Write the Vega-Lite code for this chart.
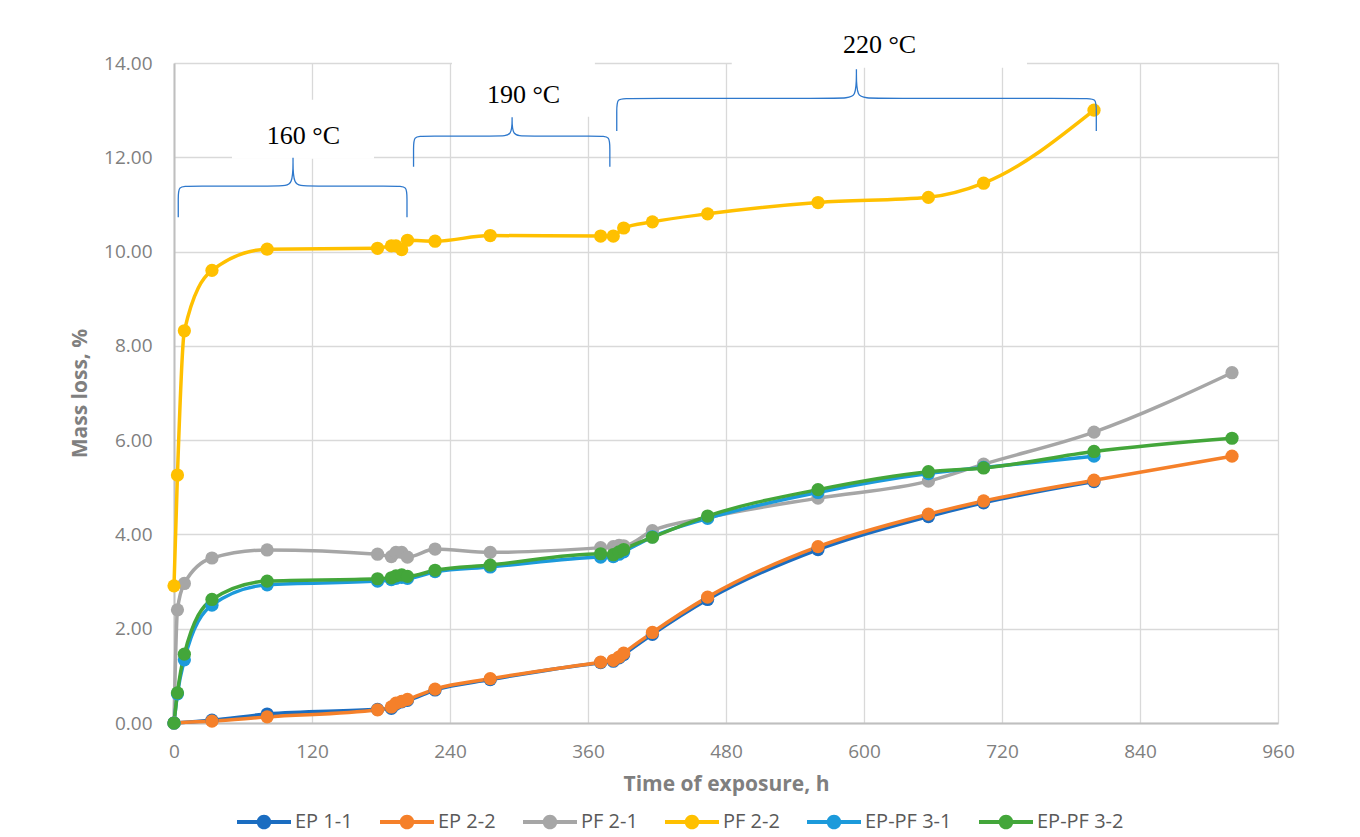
{
  "$schema": "https://vega.github.io/schema/vega-lite/v6.json",
  "width": 1104,
  "height": 660,
  "autosize": {"type": "none"},
  "padding": {"left": 174, "top": 63, "right": 82, "bottom": 114},
  "background": "white",
  "config": {
    "view": {"stroke": null},
    "font": "Open Sans",
    "axis": {
      "ticks": false,
      "domainColor": "#bfbfbf",
      "domainWidth": 2,
      "gridColor": "#d9d9d9",
      "gridWidth": 1.3,
      "labelFont": "Open Sans",
      "labelFontSize": 19,
      "labelColor": "#7f7f7f",
      "labelFlush": false,
      "titleFont": "Open Sans",
      "titleFontSize": 21,
      "titleFontWeight": "bold",
      "titleColor": "#7f7f7f"
    }
  },
  "datasets": {
    "loss": [
      {"series": "EP 1-1", "h": 0, "v": 0},
      {"series": "EP 1-1", "h": 33, "v": 0.06},
      {"series": "EP 1-1", "h": 81, "v": 0.19},
      {"series": "EP 1-1", "h": 177, "v": 0.29},
      {"series": "EP 1-1", "h": 189, "v": 0.31},
      {"series": "EP 1-1", "h": 193, "v": 0.4},
      {"series": "EP 1-1", "h": 198, "v": 0.45},
      {"series": "EP 1-1", "h": 203, "v": 0.48},
      {"series": "EP 1-1", "h": 227, "v": 0.7},
      {"series": "EP 1-1", "h": 275, "v": 0.92},
      {"series": "EP 1-1", "h": 371, "v": 1.28},
      {"series": "EP 1-1", "h": 382, "v": 1.31},
      {"series": "EP 1-1", "h": 387, "v": 1.38},
      {"series": "EP 1-1", "h": 391, "v": 1.45},
      {"series": "EP 1-1", "h": 416, "v": 1.88},
      {"series": "EP 1-1", "h": 464, "v": 2.62},
      {"series": "EP 1-1", "h": 560, "v": 3.68},
      {"series": "EP 1-1", "h": 656, "v": 4.38},
      {"series": "EP 1-1", "h": 704, "v": 4.67},
      {"series": "EP 1-1", "h": 800, "v": 5.12},

      {"series": "EP 2-2", "h": 0, "v": 0},
      {"series": "EP 2-2", "h": 33, "v": 0.04},
      {"series": "EP 2-2", "h": 81, "v": 0.13},
      {"series": "EP 2-2", "h": 177, "v": 0.28},
      {"series": "EP 2-2", "h": 189, "v": 0.34},
      {"series": "EP 2-2", "h": 193, "v": 0.42},
      {"series": "EP 2-2", "h": 198, "v": 0.46},
      {"series": "EP 2-2", "h": 203, "v": 0.5},
      {"series": "EP 2-2", "h": 227, "v": 0.72},
      {"series": "EP 2-2", "h": 275, "v": 0.94},
      {"series": "EP 2-2", "h": 371, "v": 1.29},
      {"series": "EP 2-2", "h": 382, "v": 1.33},
      {"series": "EP 2-2", "h": 387, "v": 1.4},
      {"series": "EP 2-2", "h": 391, "v": 1.48},
      {"series": "EP 2-2", "h": 416, "v": 1.92},
      {"series": "EP 2-2", "h": 464, "v": 2.67},
      {"series": "EP 2-2", "h": 560, "v": 3.74},
      {"series": "EP 2-2", "h": 656, "v": 4.43},
      {"series": "EP 2-2", "h": 704, "v": 4.71},
      {"series": "EP 2-2", "h": 800, "v": 5.15},
      {"series": "EP 2-2", "h": 920, "v": 5.66},

      {"series": "PF 2-1", "h": 0, "v": 0},
      {"series": "PF 2-1", "h": 3, "v": 2.4},
      {"series": "PF 2-1", "h": 9, "v": 2.96},
      {"series": "PF 2-1", "h": 33, "v": 3.5},
      {"series": "PF 2-1", "h": 81, "v": 3.67},
      {"series": "PF 2-1", "h": 177, "v": 3.58},
      {"series": "PF 2-1", "h": 189, "v": 3.53},
      {"series": "PF 2-1", "h": 193, "v": 3.62},
      {"series": "PF 2-1", "h": 198, "v": 3.62},
      {"series": "PF 2-1", "h": 203, "v": 3.52},
      {"series": "PF 2-1", "h": 227, "v": 3.69},
      {"series": "PF 2-1", "h": 275, "v": 3.62},
      {"series": "PF 2-1", "h": 371, "v": 3.72},
      {"series": "PF 2-1", "h": 382, "v": 3.74},
      {"series": "PF 2-1", "h": 387, "v": 3.77},
      {"series": "PF 2-1", "h": 391, "v": 3.76},
      {"series": "PF 2-1", "h": 416, "v": 4.08},
      {"series": "PF 2-1", "h": 464, "v": 4.36},
      {"series": "PF 2-1", "h": 560, "v": 4.77},
      {"series": "PF 2-1", "h": 656, "v": 5.13},
      {"series": "PF 2-1", "h": 704, "v": 5.49},
      {"series": "PF 2-1", "h": 800, "v": 6.17},
      {"series": "PF 2-1", "h": 920, "v": 7.43},

      {"series": "PF 2-2", "h": 0, "v": 2.91},
      {"series": "PF 2-2", "h": 3, "v": 5.26},
      {"series": "PF 2-2", "h": 9, "v": 8.32},
      {"series": "PF 2-2", "h": 33, "v": 9.6},
      {"series": "PF 2-2", "h": 81, "v": 10.05},
      {"series": "PF 2-2", "h": 177, "v": 10.07},
      {"series": "PF 2-2", "h": 189, "v": 10.12},
      {"series": "PF 2-2", "h": 193, "v": 10.12},
      {"series": "PF 2-2", "h": 198, "v": 10.04},
      {"series": "PF 2-2", "h": 203, "v": 10.24},
      {"series": "PF 2-2", "h": 227, "v": 10.22},
      {"series": "PF 2-2", "h": 275, "v": 10.34},
      {"series": "PF 2-2", "h": 371, "v": 10.33},
      {"series": "PF 2-2", "h": 382, "v": 10.33},
      {"series": "PF 2-2", "h": 391, "v": 10.5},
      {"series": "PF 2-2", "h": 416, "v": 10.63},
      {"series": "PF 2-2", "h": 464, "v": 10.8},
      {"series": "PF 2-2", "h": 560, "v": 11.04},
      {"series": "PF 2-2", "h": 656, "v": 11.15},
      {"series": "PF 2-2", "h": 704, "v": 11.45},
      {"series": "PF 2-2", "h": 800, "v": 13.0},

      {"series": "EP-PF 3-1", "h": 0, "v": 0},
      {"series": "EP-PF 3-1", "h": 3, "v": 0.62},
      {"series": "EP-PF 3-1", "h": 9, "v": 1.34},
      {"series": "EP-PF 3-1", "h": 33, "v": 2.5},
      {"series": "EP-PF 3-1", "h": 81, "v": 2.93},
      {"series": "EP-PF 3-1", "h": 177, "v": 3.01},
      {"series": "EP-PF 3-1", "h": 189, "v": 3.04},
      {"series": "EP-PF 3-1", "h": 193, "v": 3.07},
      {"series": "EP-PF 3-1", "h": 198, "v": 3.09},
      {"series": "EP-PF 3-1", "h": 203, "v": 3.07},
      {"series": "EP-PF 3-1", "h": 227, "v": 3.21},
      {"series": "EP-PF 3-1", "h": 275, "v": 3.31},
      {"series": "EP-PF 3-1", "h": 371, "v": 3.52},
      {"series": "EP-PF 3-1", "h": 382, "v": 3.53},
      {"series": "EP-PF 3-1", "h": 387, "v": 3.58},
      {"series": "EP-PF 3-1", "h": 391, "v": 3.63},
      {"series": "EP-PF 3-1", "h": 416, "v": 3.95},
      {"series": "EP-PF 3-1", "h": 464, "v": 4.34},
      {"series": "EP-PF 3-1", "h": 560, "v": 4.89},
      {"series": "EP-PF 3-1", "h": 656, "v": 5.29},
      {"series": "EP-PF 3-1", "h": 704, "v": 5.42},
      {"series": "EP-PF 3-1", "h": 800, "v": 5.66},

      {"series": "EP-PF 3-2", "h": 0, "v": 0},
      {"series": "EP-PF 3-2", "h": 3, "v": 0.64},
      {"series": "EP-PF 3-2", "h": 9, "v": 1.46},
      {"series": "EP-PF 3-2", "h": 33, "v": 2.62},
      {"series": "EP-PF 3-2", "h": 81, "v": 3.01},
      {"series": "EP-PF 3-2", "h": 177, "v": 3.06},
      {"series": "EP-PF 3-2", "h": 189, "v": 3.08},
      {"series": "EP-PF 3-2", "h": 193, "v": 3.12},
      {"series": "EP-PF 3-2", "h": 198, "v": 3.14},
      {"series": "EP-PF 3-2", "h": 203, "v": 3.11},
      {"series": "EP-PF 3-2", "h": 227, "v": 3.24},
      {"series": "EP-PF 3-2", "h": 275, "v": 3.35},
      {"series": "EP-PF 3-2", "h": 371, "v": 3.59},
      {"series": "EP-PF 3-2", "h": 382, "v": 3.57},
      {"series": "EP-PF 3-2", "h": 387, "v": 3.63},
      {"series": "EP-PF 3-2", "h": 391, "v": 3.68},
      {"series": "EP-PF 3-2", "h": 416, "v": 3.94},
      {"series": "EP-PF 3-2", "h": 464, "v": 4.39},
      {"series": "EP-PF 3-2", "h": 560, "v": 4.95},
      {"series": "EP-PF 3-2", "h": 656, "v": 5.33},
      {"series": "EP-PF 3-2", "h": 704, "v": 5.41},
      {"series": "EP-PF 3-2", "h": 800, "v": 5.76},
      {"series": "EP-PF 3-2", "h": 920, "v": 6.04}
    ],
    "boxes": [
      {"h": 50.4, "h2": 173.9, "v": 11.97, "v2": 13.22},
      {"h": 241.7, "h2": 366, "v": 12.86, "v2": 14.05},
      {"h": 485, "h2": 741.7, "v": 13.9, "v2": 15.17}
    ],
    "braces": [
      {"brace": "160", "i": 1, "h": 3.7, "v": 10.73},
      {"brace": "160", "i": 2, "h": 3.7, "v": 10.73},
      {"brace": "160", "i": 3, "h": 3.7, "v": 11.135},
      {"brace": "160", "i": 4, "h": 3.7, "v": 11.39},
      {"brace": "160", "i": 5, "h": 12.4, "v": 11.39},
      {"brace": "160", "i": 6, "h": 93.1, "v": 11.39},
      {"brace": "160", "i": 7, "h": 103.5, "v": 11.39},
      {"brace": "160", "i": 8, "h": 103.5, "v": 11.99},
      {"brace": "160", "i": 9, "h": 103.5, "v": 11.99},
      {"brace": "160", "i": 10, "h": 103.5, "v": 11.99},
      {"brace": "160", "i": 11, "h": 103.5, "v": 11.39},
      {"brace": "160", "i": 12, "h": 113.9, "v": 11.39},
      {"brace": "160", "i": 13, "h": 193.9, "v": 11.39},
      {"brace": "160", "i": 14, "h": 202.6, "v": 11.39},
      {"brace": "160", "i": 15, "h": 202.6, "v": 11.135},
      {"brace": "160", "i": 16, "h": 202.6, "v": 10.73},
      {"brace": "160", "i": 17, "h": 202.6, "v": 10.73},

      {"brace": "190", "i": 1, "h": 208.3, "v": 11.8},
      {"brace": "190", "i": 2, "h": 208.3, "v": 11.8},
      {"brace": "190", "i": 3, "h": 208.3, "v": 12.195},
      {"brace": "190", "i": 4, "h": 208.3, "v": 12.45},
      {"brace": "190", "i": 5, "h": 217, "v": 12.45},
      {"brace": "190", "i": 6, "h": 283.6, "v": 12.45},
      {"brace": "190", "i": 7, "h": 294, "v": 12.45},
      {"brace": "190", "i": 8, "h": 294, "v": 12.85},
      {"brace": "190", "i": 9, "h": 294, "v": 12.85},
      {"brace": "190", "i": 10, "h": 294, "v": 12.85},
      {"brace": "190", "i": 11, "h": 294, "v": 12.45},
      {"brace": "190", "i": 12, "h": 304.4, "v": 12.45},
      {"brace": "190", "i": 13, "h": 370.3, "v": 12.45},
      {"brace": "190", "i": 14, "h": 379, "v": 12.45},
      {"brace": "190", "i": 15, "h": 379, "v": 12.195},
      {"brace": "190", "i": 16, "h": 379, "v": 11.8},
      {"brace": "190", "i": 17, "h": 379, "v": 11.8},

      {"brace": "220", "i": 1, "h": 385, "v": 12.56},
      {"brace": "220", "i": 2, "h": 385, "v": 12.56},
      {"brace": "220", "i": 3, "h": 385, "v": 12.995},
      {"brace": "220", "i": 4, "h": 385, "v": 13.25},
      {"brace": "220", "i": 5, "h": 393.7, "v": 13.25},
      {"brace": "220", "i": 6, "h": 583, "v": 13.25},
      {"brace": "220", "i": 7, "h": 593.4, "v": 13.25},
      {"brace": "220", "i": 8, "h": 593.4, "v": 13.87},
      {"brace": "220", "i": 9, "h": 593.4, "v": 13.87},
      {"brace": "220", "i": 10, "h": 593.4, "v": 13.87},
      {"brace": "220", "i": 11, "h": 593.4, "v": 13.25},
      {"brace": "220", "i": 12, "h": 603.8, "v": 13.25},
      {"brace": "220", "i": 13, "h": 793.3, "v": 13.25},
      {"brace": "220", "i": 14, "h": 802, "v": 13.25},
      {"brace": "220", "i": 15, "h": 802, "v": 12.995},
      {"brace": "220", "i": 16, "h": 802, "v": 12.56},
      {"brace": "220", "i": 17, "h": 802, "v": 12.56}
    ],
    "labels": [
      {"label": "160 °C", "h": 112.5, "v": 12.28},
      {"label": "190 °C", "h": 304, "v": 13.15},
      {"label": "220 °C", "h": 613.5, "v": 14.22}
    ]
  },
  "encoding": {
    "x": {
      "field": "h",
      "type": "quantitative",
      "title": "Time of exposure, h",
      "scale": {"domain": [0, 960], "nice": false, "zero": false},
      "axis": {
        "values": [0, 120, 240, 360, 480, 600, 720, 840, 960],
        "format": "d",
        "labelPadding": 19,
        "titlePadding": 12
      }
    },
    "y": {
      "field": "v",
      "type": "quantitative",
      "title": "Mass loss, %",
      "scale": {"domain": [0, 14], "nice": false},
      "axis": {
        "values": [0, 2, 4, 6, 8, 10, 12, 14],
        "format": ".2f",
        "labelPadding": 22,
        "titlePadding": 13
      }
    }
  },
  "layer": [
    {
      "data": {"name": "loss"},
      "mark": {"type": "line", "interpolate": "monotone", "strokeWidth": 3.5},
      "encoding": {
        "color": {
          "field": "series",
          "type": "nominal",
          "sort": ["EP 1-1", "EP 2-2", "PF 2-1", "PF 2-2", "EP-PF 3-1", "EP-PF 3-2"],
          "scale": {
            "domain": ["EP 1-1", "EP 2-2", "PF 2-1", "PF 2-2", "EP-PF 3-1", "EP-PF 3-2"],
            "range": ["#1b6dc1", "#f5802a", "#a6a6a6", "#ffc000", "#1c9adb", "#43a63a"]
          },
          "legend": {
            "orient": "none",
            "legendX": 63,
            "legendY": 732,
            "direction": "horizontal",
            "columns": 6,
            "title": null,
            "symbolType": "M-1,-0.075L1,-0.075L1,0.075L-1,0.075Z M0.27,0A0.27,0.27,0,1,1,-0.27,0A0.27,0.27,0,1,1,0.27,0Z",
            "symbolSize": 2916,
            "symbolStrokeWidth": 0,
            "labelFont": "Open Sans",
            "labelFontSize": 20,
            "labelColor": "#595959",
            "labelOffset": 4,
            "columnPadding": 27,
            "encode": {
              "symbols": {
                "update": {
                  "fill": {"scale": "color", "field": "value"},
                  "stroke": {"value": "transparent"}
                }
              }
            }
          }
        },
        "order": {"field": "h", "type": "quantitative"}
      }
    },
    {
      "data": {"name": "loss"},
      "mark": {"type": "point", "filled": true, "size": 175, "opacity": 1},
      "encoding": {
        "color": {"field": "series", "type": "nominal"}
      }
    },
    {
      "data": {"name": "boxes"},
      "mark": {"type": "rect", "fill": "white", "strokeWidth": 0},
      "encoding": {
        "x2": {"field": "h2"},
        "y2": {"field": "v2"}
      }
    },
    {
      "data": {"name": "braces"},
      "mark": {"type": "line", "interpolate": "basis", "strokeWidth": 1.3, "color": "#2e78cc"},
      "encoding": {
        "detail": {"field": "brace", "type": "nominal"},
        "order": {"field": "i", "type": "quantitative"}
      }
    },
    {
      "data": {"name": "labels"},
      "mark": {
        "type": "text",
        "font": "Liberation Serif",
        "fontSize": 26,
        "color": "black",
        "align": "center",
        "baseline": "alphabetic"
      },
      "encoding": {
        "text": {"field": "label", "type": "nominal"}
      }
    }
  ]
}
